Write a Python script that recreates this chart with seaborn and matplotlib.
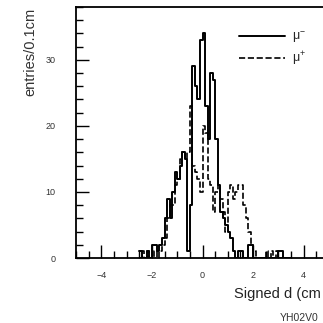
import numpy as np
import pandas as pd
import matplotlib
matplotlib.use("Agg")
import matplotlib.pyplot as plt
from matplotlib.lines import Line2D
from matplotlib.ticker import MultipleLocator
import seaborn as sns

# ---- data (entries per 0.1 cm bin, first bin starts at -2.5 cm) ----
bin_start = -2.5
bin_width = 0.1
mu_minus = [1, 0, 0, 1, 0, 2, 2, 1, 2, 3,
            6, 9, 6, 10, 13, 12, 14, 16, 15, 1,
            8, 29, 26, 24, 33, 34, 23, 18, 28, 27,
            18, 11, 7, 6, 5, 4, 3, 1, 0, 1,
            1, 0, 0, 2, 2, 0, 0, 0, 0, 0,
            0, 0, 0, 0, 0, 1, 1, 0, 0, 0]
mu_plus = [0, 1, 0, 1, 0, 0, 1, 0, 1, 2,
           3, 6, 8, 8, 11, 12, 15, 16, 15, 16,
           23, 14, 13, 12, 10, 20, 19, 12, 11, 7,
           10, 11, 9, 7, 4, 10, 11, 9, 10, 11,
           11, 8, 6, 4, 2, 1, 0, 0, 0, 0,
           1, 0, 1, 0, 1, 0, 0, 0, 0, 0]
labels = ["μ$^{-}$", "μ$^{+}$"]
x_label = "Signed d (cm"   # as visible in the reference (cropped at the edge)
y_label = "entries/0.1cm"
tag = "YH02V0"

n = len(mu_minus)
centers = bin_start + bin_width * (np.arange(n) + 0.5)
bin_end = bin_start + bin_width * n
df = pd.DataFrame({"d": np.concatenate([centers, centers]),
                   "n": mu_minus + mu_plus,
                   "charge": [labels[0]] * n + [labels[1]] * n})

sns.set_style("ticks")
plt.rcParams["font.family"] = ["Liberation Sans", "DejaVu Sans"]
plt.rcParams["mathtext.fontset"] = "custom"
plt.rcParams["mathtext.rm"] = "Liberation Sans"

fig = plt.figure(figsize=(3.23, 3.23), dpi=100)
W = H = 323.0
ax = fig.add_axes([76 / W, 65 / H, 253 / W, 251 / H])

styles = {labels[0]: ("-", 1.4), labels[1]: ("--", 1.2)}
for lab in labels:
    sub = df[df["charge"] == lab]
    ls, lw = styles[lab]
    sns.histplot(data=sub, x="d", weights="n", binwidth=bin_width,
                 binrange=(bin_start, bin_end), element="step",
                 fill=False, color="black", linewidth=lw,
                 linestyle=ls, ax=ax)

ax.set_xlim(-5, 5)
ax.set_ylim(0, 38)
ax.xaxis.set_major_locator(MultipleLocator(2))
ax.xaxis.set_minor_locator(MultipleLocator(0.5))
ax.yaxis.set_major_locator(MultipleLocator(10))
ax.yaxis.set_minor_locator(MultipleLocator(2))
ax.tick_params(which="both", direction="in", width=1.0, colors="black",
               labelcolor="#333333", labelsize=6.5)
ax.tick_params(which="major", length=9.5)
ax.tick_params(which="minor", length=5)
ax.tick_params(axis="x", which="major", pad=9)
ax.tick_params(axis="y", which="major", pad=15)
ax.set_xlabel("")
ax.set_ylabel("")
for s in ["left", "bottom", "top", "right"]:
    ax.spines[s].set_linewidth(1.3)
    ax.spines[s].set_color("black")

handles = [Line2D([], [], color="black", lw=1.4, ls="-"),
           Line2D([], [], color="black", lw=1.2, ls="--")]
ax.legend(handles, labels, loc="upper left",
          bbox_to_anchor=(239 / W, 1 - 30 / H), bbox_transform=fig.transFigure,
          frameon=False, fontsize=9, handlelength=3.7, handletextpad=0.55,
          labelspacing=0.4, borderpad=0, borderaxespad=0)

fig.text(30 / W, 1 - 52 / H, y_label, rotation=90, ha="center", va="center",
         fontsize=10.5, color="#333333")
fig.text(321 / W, 1 - 298 / H, x_label, ha="right", va="baseline",
         fontsize=10.5, color="#222222")
fig.text(280 / W, 1 - 321 / H, tag, ha="left", va="baseline",
         fontsize=7.5, color="#333333")

fig.savefig("out.png", dpi=100)
